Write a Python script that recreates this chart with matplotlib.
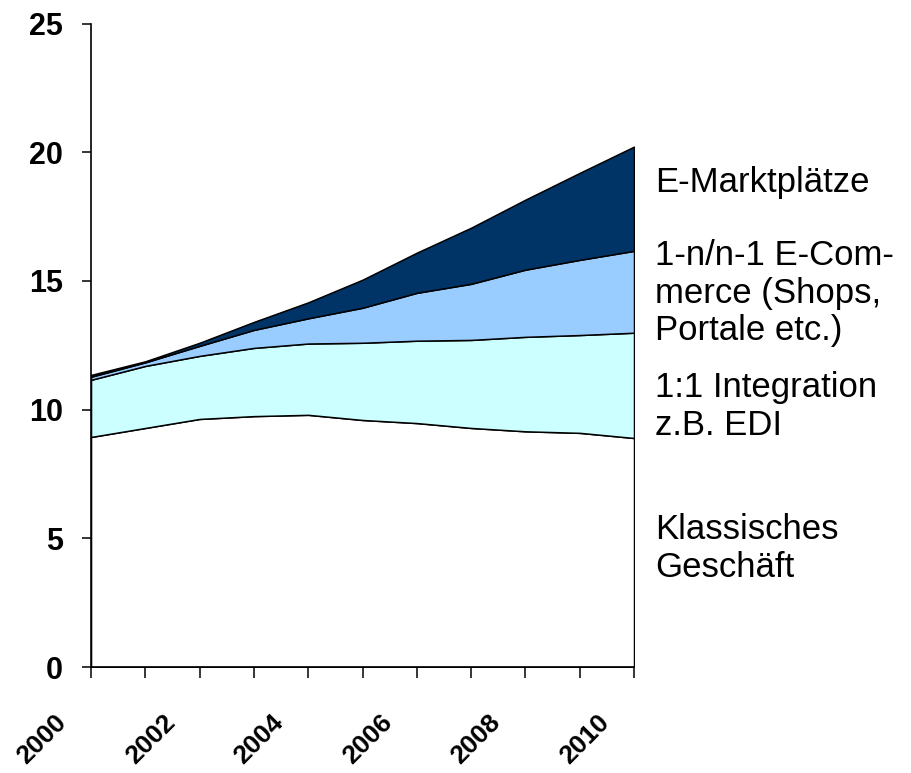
import numpy as np
import matplotlib
matplotlib.use('Agg')
import matplotlib.pyplot as plt
import matplotlib.transforms as mtransforms

## -- Data
years = list(range(2000, 2011))
klassisch = [8.94, 9.29, 9.64, 9.75, 9.80, 9.60, 9.48, 9.29, 9.16, 9.10, 8.90]
integration = [2.22, 2.41, 2.45, 2.65, 2.77, 3.00, 3.20, 3.42, 3.67, 3.80, 4.09]
ecommerce = [0.12, 0.14, 0.39, 0.70, 0.98, 1.36, 1.86, 2.18, 2.61, 2.92, 3.18]
marktplaetze = [0.07, 0.04, 0.12, 0.31, 0.62, 1.09, 1.56, 2.18, 2.72, 3.38, 4.05]

series_labels = ["Klassisches\nGeschäft", "1:1 Integration\nz.B. EDI",
                 "1-n/n-1 E-Com-\nmerce (Shops,\nPortale etc.)", "E-Marktplätze"]
label_y = [3.50, 9.01, 12.70, 18.45]   # baseline of last line
colors = ["#FFFFFF", "#CCFFFF", "#99CCFF", "#003366"]

plt.rcParams['font.family'] = ['Liberation Sans', 'DejaVu Sans']

fig = plt.figure(figsize=(9.12, 7.73), dpi=100)
ax = fig.add_axes([0.0998, 0.137, 0.5954, 0.8325])

ax.stackplot(years, klassisch, integration, ecommerce, marktplaetze,
             colors=colors, edgecolor='black', linewidth=1.1)

ax.set_xlim(2000, 2010)
ax.set_ylim(0, 25)
ax.set_yticks([0, 5, 10, 15, 20, 25])
ax.set_xticks(years)
ax.set_xticklabels([str(y) if y % 2 == 0 else "" for y in years],
                   rotation=45, ha='right', va='top', fontweight='bold')

for s in ['top', 'right']:
    ax.spines[s].set_visible(False)
for s in ['left', 'bottom']:
    ax.spines[s].set_linewidth(1.2)

ax.tick_params(axis='y', direction='out', length=6.5, width=1.1, pad=13.5,
               labelsize=22)
ax.tick_params(axis='x', direction='out', length=8, width=1.1, pad=23,
               labelsize=19)
for lab in ax.get_yticklabels():
    lab.set_fontweight('bold')

# rotated year labels sit a bit left of their tick
shift = mtransforms.ScaledTranslation(-0.2, 0, fig.dpi_scale_trans)
for lab in ax.get_xticklabels():
    lab.set_transform(lab.get_transform() + shift)

## -- labels on the right side
for txt, yv in zip(series_labels, label_y):
    ax.text(2010.39, yv, txt, fontsize=25, va='baseline', ha='left',
            linespacing=1.18, clip_on=False)

plt.savefig("out.png", dpi=100)
